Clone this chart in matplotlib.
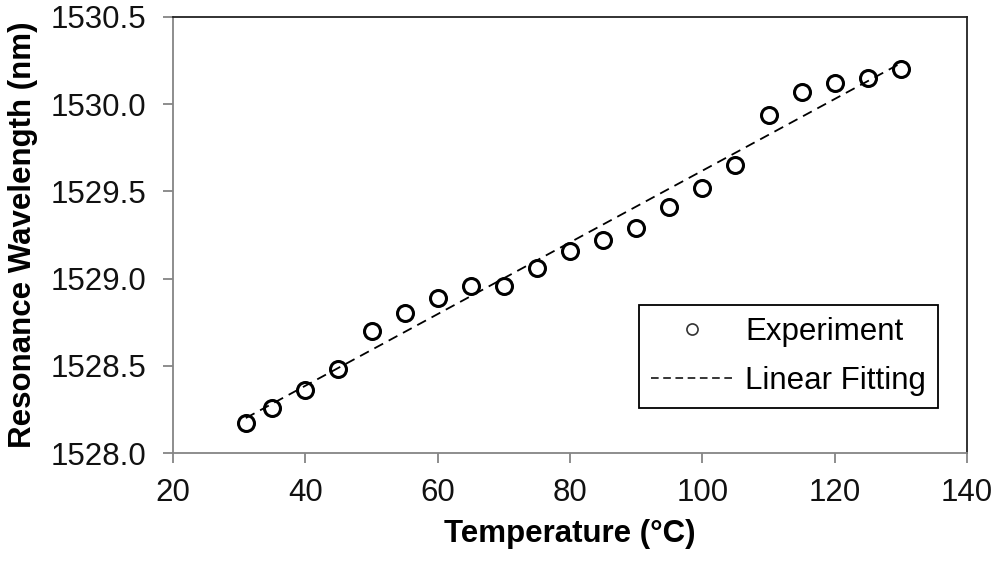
import numpy as np
import matplotlib
matplotlib.use('Agg')
import matplotlib.pyplot as plt
from matplotlib.lines import Line2D

plt.rcParams['font.family'] = ['Liberation Sans', 'DejaVu Sans']

# data
temp = [31, 35, 40, 45, 50, 55, 60, 65, 70, 75, 80, 85, 90, 95, 100, 105, 110, 115, 120, 125, 130]
wavelength = [1528.17, 1528.26, 1528.36, 1528.48, 1528.70, 1528.80, 1528.89, 1528.96, 1528.96,
              1529.06, 1529.16, 1529.22, 1529.29, 1529.41, 1529.52, 1529.65, 1529.94, 1530.07,
              1530.12, 1530.15, 1530.20]

xticks = [20, 40, 60, 80, 100, 120, 140]
yticks = [1528.0, 1528.5, 1529.0, 1529.5, 1530.0, 1530.5]

# linear fit of experiment
slope, icpt = np.polyfit(temp, wavelength, 1)
fit_x = np.array([temp[0], temp[-1]])
fit_y = slope * fit_x + icpt

fig = plt.figure(figsize=(10, 5.61), dpi=100)
ax = fig.add_axes([0.173, 0.1925, 0.794, 0.7775])

ax.plot(fit_x, fit_y, color='black', linewidth=1.3, dashes=(5.5, 3.5), zorder=2)
ax.plot(temp, wavelength, linestyle='none', marker='o', markersize=11.5,
        markerfacecolor='none', markeredgecolor='black', markeredgewidth=2.2, zorder=3)

ax.set_xlim(20, 140)
ax.set_ylim(1528.0, 1530.5)
ax.set_xticks(xticks)
ax.set_yticks(yticks)
ax.set_yticklabels(['%.1f' % v for v in yticks])

for side in ['left', 'bottom']:
    ax.spines[side].set_color('#858585')
    ax.spines[side].set_linewidth(1.3)
for side in ['top', 'right']:
    ax.spines[side].set_color('#222222')
    ax.spines[side].set_linewidth(1.3)

ax.tick_params(axis='both', direction='out', length=7, width=1.3, color='#858585',
               labelsize=22.5, labelcolor='#111111')
ax.tick_params(axis='y', pad=12)
ax.tick_params(axis='x', pad=11)

ax.set_xlabel('Temperature (°C)', fontsize=22.5, fontweight='bold', labelpad=8)
ax.set_ylabel('Resonance Wavelength (nm)', fontsize=22.5, fontweight='bold', labelpad=9)

h_exp = Line2D([], [], linestyle='none', marker='o', markersize=8,
               markerfacecolor='none', markeredgecolor='#333333', markeredgewidth=1.2)
h_fit = Line2D([], [], color='black', linewidth=1.1, dashes=(5, 3))
leg = ax.legend([h_exp, h_fit], ['Experiment', 'Linear Fitting'],
                loc='lower right', bbox_to_anchor=(0.9638, 0.1025),
                fontsize=22.5, frameon=True, fancybox=False, framealpha=1,
                edgecolor='black', handlelength=2.6, handletextpad=0.4,
                borderpad=0.4, labelspacing=0.6, borderaxespad=0)
leg.get_frame().set_linewidth(1.3)

plt.savefig('out.png', dpi=100)
